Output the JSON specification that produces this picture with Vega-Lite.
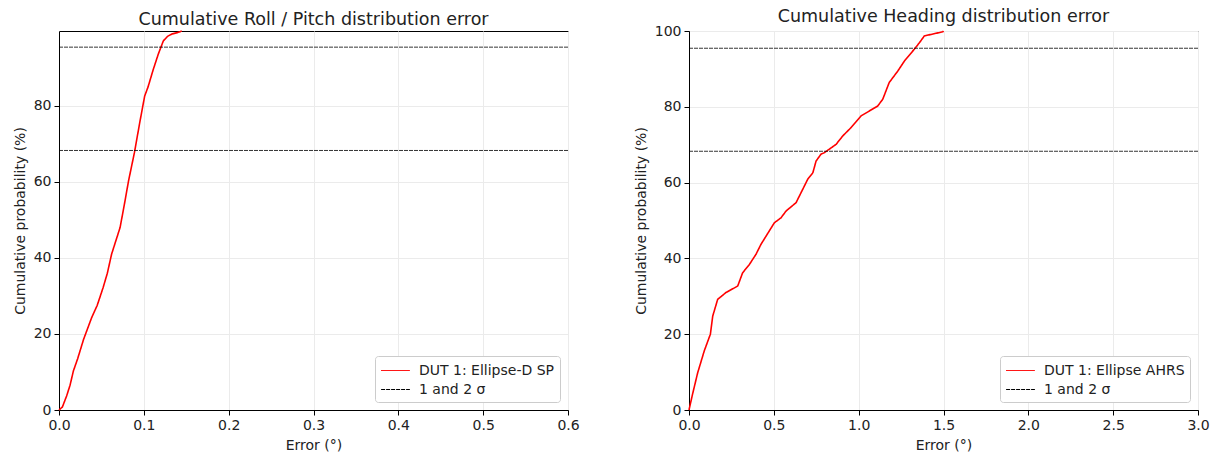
{
  "$schema": "https://vega.github.io/schema/vega-lite/v6.json",
  "padding": {"left": 12, "top": 7, "right": 5, "bottom": 5},
  "background": "white",
  "datasets": {
    "roll": [
      {"error": 0.0, "prob": 0.0},
      {"error": 0.004, "prob": 0.8},
      {"error": 0.009, "prob": 3.7},
      {"error": 0.013, "prob": 6.5},
      {"error": 0.017, "prob": 10.3},
      {"error": 0.022, "prob": 13.5},
      {"error": 0.029, "prob": 18.6},
      {"error": 0.0385, "prob": 24.3},
      {"error": 0.045, "prob": 27.5},
      {"error": 0.052, "prob": 32.2},
      {"error": 0.057, "prob": 36.0},
      {"error": 0.062, "prob": 41.0},
      {"error": 0.067, "prob": 44.5},
      {"error": 0.072, "prob": 48.0},
      {"error": 0.077, "prob": 54.0},
      {"error": 0.082, "prob": 60.3},
      {"error": 0.0889, "prob": 67.7},
      {"error": 0.0955, "prob": 76.0},
      {"error": 0.101, "prob": 82.6},
      {"error": 0.105, "prob": 85.0},
      {"error": 0.111, "prob": 89.5},
      {"error": 0.117, "prob": 93.6},
      {"error": 0.123, "prob": 97.1},
      {"error": 0.128, "prob": 98.3},
      {"error": 0.133, "prob": 98.9},
      {"error": 0.14, "prob": 99.3},
      {"error": 0.1447, "prob": 99.7}
    ],
    "heading": [
      {"error": 0.0, "prob": 0.0},
      {"error": 0.02, "prob": 4.0},
      {"error": 0.051, "prob": 9.8},
      {"error": 0.09, "prob": 15.6},
      {"error": 0.126, "prob": 20.0},
      {"error": 0.14, "prob": 24.8},
      {"error": 0.169, "prob": 29.2},
      {"error": 0.218, "prob": 31.0},
      {"error": 0.287, "prob": 32.7},
      {"error": 0.316, "prob": 36.2},
      {"error": 0.356, "prob": 38.4},
      {"error": 0.395, "prob": 41.1},
      {"error": 0.424, "prob": 43.7},
      {"error": 0.503, "prob": 49.4},
      {"error": 0.542, "prob": 50.7},
      {"error": 0.572, "prob": 52.5},
      {"error": 0.631, "prob": 54.7},
      {"error": 0.67, "prob": 58.2},
      {"error": 0.7, "prob": 60.9},
      {"error": 0.73, "prob": 62.6},
      {"error": 0.749, "prob": 65.7},
      {"error": 0.778, "prob": 67.5},
      {"error": 0.798, "prob": 67.9},
      {"error": 0.867, "prob": 70.1},
      {"error": 0.906, "prob": 72.3},
      {"error": 0.955, "prob": 74.5},
      {"error": 1.014, "prob": 77.6},
      {"error": 1.063, "prob": 78.9},
      {"error": 1.112, "prob": 80.2},
      {"error": 1.142, "prob": 82.0},
      {"error": 1.18, "prob": 86.4},
      {"error": 1.23, "prob": 89.4},
      {"error": 1.27, "prob": 92.1},
      {"error": 1.328, "prob": 95.2},
      {"error": 1.358, "prob": 96.9},
      {"error": 1.387, "prob": 98.7},
      {"error": 1.427, "prob": 99.1},
      {"error": 1.496, "prob": 99.8},
      {"error": 1.5, "prob": 100.0}
    ],
    "sigma": [
      {"prob": 68.27},
      {"prob": 95.45}
    ]
  },
  "config": {
    "font": "DejaVu Sans",
    "view": {"stroke": "black", "strokeWidth": 1},
    "axis": {
      "domainColor": "black",
      "tickColor": "black",
      "labelColor": "#222",
      "titleColor": "#222",
      "labelFontSize": 14,
      "titleFontSize": 14,
      "titleFontWeight": "normal",
      "labelFont": "DejaVu Sans",
      "titleFont": "DejaVu Sans",
      "labelFlush": false,
      "labelOverlap": false,
      "gridColor": "#ebebeb",
      "tickSize": 5,
      "labelPadding": 3,
      "titlePadding": 6
    },
    "title": {"fontSize": 17.5, "fontWeight": "normal", "font": "DejaVu Sans", "color": "#222", "offset": -1},
    "legend": {
      "orient": "bottom-right",
      "offset": 8,
      "strokeColor": "#cccccc",
      "fillColor": "white",
      "cornerRadius": 3,
      "padding": 5,
      "labelFontSize": 14,
      "labelFont": "DejaVu Sans",
      "labelColor": "#222",
      "labelOffset": 14,
      "symbolType": "M-1.6,0H1.6",
      "symbolSize": 324,
      "symbolOffset": 6,
      "symbolStrokeWidth": 1,
      "rowPadding": 2,
      "title": null
    },
    "concat": {"spacing": 53}
  },
  "hconcat": [
    {
      "width": 509,
      "height": 379,
      "title": "Cumulative Roll / Pitch distribution error",
      "layer": [
        {
          "data": {"name": "roll"},
          "mark": {"type": "line", "strokeWidth": 1.6},
          "encoding": {
            "x": {"field": "error", "type": "quantitative", "scale": {"domain": [0, 0.6], "nice": false},
                  "axis": {"title": "Error (°)", "values": [0, 0.1, 0.2, 0.3, 0.4, 0.5, 0.6], "format": ".1f"}},
            "y": {"field": "prob", "type": "quantitative", "scale": {"domain": [0, 99.7], "nice": false},
                  "axis": {"title": "Cumulative probability (%)", "values": [0, 20, 40, 60, 80]}},
            "color": {"datum": "DUT 1: Ellipse-D SP", "type": "nominal",
                      "scale": {"domain": ["DUT 1: Ellipse-D SP", "1 and 2 σ"], "range": ["red", "black"]},
                      "legend": {"title": null}},
            "strokeDash": {"datum": "DUT 1: Ellipse-D SP", "type": "nominal",
                           "scale": {"domain": ["DUT 1: Ellipse-D SP", "1 and 2 σ"], "range": [[1, 0], [4, 1]]},
                           "legend": {"title": null}}
          }
        },
        {
          "data": {"name": "sigma"},
          "mark": {"type": "rule", "strokeWidth": 0.8},
          "encoding": {
            "y": {"field": "prob", "type": "quantitative"},
            "color": {"datum": "1 and 2 σ", "type": "nominal"},
            "strokeDash": {"datum": "1 and 2 σ", "type": "nominal"}
          }
        }
      ]
    },
    {
      "width": 509,
      "height": 379,
      "title": "Cumulative Heading distribution error",
      "layer": [
        {
          "data": {"name": "heading"},
          "mark": {"type": "line", "strokeWidth": 1.6},
          "encoding": {
            "x": {"field": "error", "type": "quantitative", "scale": {"domain": [0, 3], "nice": false},
                  "axis": {"title": "Error (°)", "values": [0, 0.5, 1, 1.5, 2, 2.5, 3], "format": ".1f"}},
            "y": {"field": "prob", "type": "quantitative", "scale": {"domain": [0, 100], "nice": false},
                  "axis": {"title": "Cumulative probability (%)", "values": [0, 20, 40, 60, 80, 100]}},
            "color": {"datum": "DUT 1: Ellipse AHRS", "type": "nominal",
                      "scale": {"domain": ["DUT 1: Ellipse AHRS", "1 and 2 σ"], "range": ["red", "black"]},
                      "legend": {"title": null}},
            "strokeDash": {"datum": "DUT 1: Ellipse AHRS", "type": "nominal",
                           "scale": {"domain": ["DUT 1: Ellipse AHRS", "1 and 2 σ"], "range": [[1, 0], [4, 1]]},
                           "legend": {"title": null}}
          }
        },
        {
          "data": {"name": "sigma"},
          "mark": {"type": "rule", "strokeWidth": 0.8},
          "encoding": {
            "y": {"field": "prob", "type": "quantitative"},
            "color": {"datum": "1 and 2 σ", "type": "nominal"},
            "strokeDash": {"datum": "1 and 2 σ", "type": "nominal"}
          }
        }
      ]
    }
  ],
  "resolve": {
    "scale": {"color": "independent", "strokeDash": "independent", "x": "independent", "y": "independent"},
    "legend": {"color": "independent", "strokeDash": "independent"}
  }
}
